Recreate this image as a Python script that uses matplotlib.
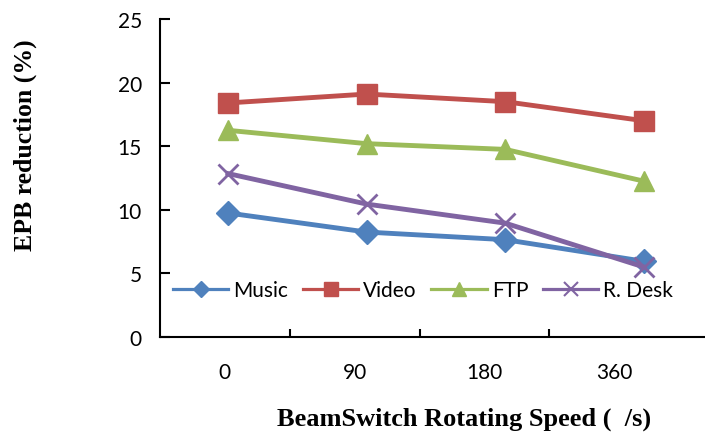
import numpy as np
import matplotlib.pyplot as plt
from matplotlib.lines import Line2D

# data
speeds = ['0', '90', '180', '360']
music = [9.75, 8.25, 7.65, 5.95]
video = [18.4, 19.1, 18.5, 17.0]
ftp = [16.25, 15.2, 14.75, 12.25]
rdesk = [12.85, 10.45, 8.95, 5.5]

colors = ['#4F81BD', '#C0504D', '#9BBB59', '#8064A2']
markers = ['D', 's', '^', 'x']
names = ['Music', 'Video', 'FTP', 'R. Desk']

plt.rcParams['font.family'] = ['Lato', 'DejaVu Sans']

fig = plt.figure(figsize=(7.05, 4.39), dpi=100)
W, H = 705, 439
box = [160 / W, 1 - 338 / H, (705 - 160) / W, (338 - 20) / H]

# axis frame with category ticks
ax = fig.add_axes(box)
ax.set_xlim(-0.5, 3.7)
ax.set_ylim(0, 25)
ax.set_yticks(np.arange(0, 26, 5))
ax.set_xticks(range(4))
ax.set_xticklabels(speeds)
ax.tick_params(axis='x', length=0, pad=18, labelsize=15)
ax.tick_params(axis='y', direction='in', length=7, width=1.5, pad=13, labelsize=15)
ax.set_xticks([0.5, 1.5, 2.5], minor=True)
ax.tick_params(axis='x', which='minor', direction='in', length=6, width=1.5)
for s in ['top', 'right']:
    ax.spines[s].set_visible(False)
for s in ['left', 'bottom']:
    ax.spines[s].set_linewidth(1.5)

serif = dict(family='Liberation Serif', fontweight='bold')
fig.text(25 / W, 1 - 145 / H, 'EPB reduction (%)', rotation=90,
         ha='center', va='center', fontsize=18.5, **serif)
fig.text(464 / W, 1 - 419 / H, 'BeamSwitch Rotating Speed (  /s)',
         ha='center', va='center', fontsize=19, **serif)

# series drawn on an overlay with the plot-area offset of the original
ax2 = fig.add_axes(box, frameon=False)
ax2.set_xlim(-0.49, 3.44)
ax2.set_ylim(0, 25)
ax2.set_xticks([])
ax2.set_yticks([])
x = np.arange(len(speeds))
handles = []
for vals, c, m, n in zip([music, video, ftp, rdesk], colors, markers, names):
    ms = {'D': 12, 's': 14, '^': 14, 'x': 14}[m]
    ax2.plot(x, vals, color=c, lw=3.5, marker=m, ms=ms, mew=2 if m == 'x' else 1,
             mec=c, mfc=c)
    lms = {'D': 8, 's': 10, '^': 10, 'x': 10}[m]
    handles.append(Line2D([], [], color=c, lw=2.3, marker=m, ms=lms,
                          mew=1.5 if m == 'x' else 1, mec=c, mfc=c, label=n))

ax2.legend(handles=handles, loc='center left', ncol=4, frameon=False,
           fontsize=15, handlelength=2.65, handletextpad=0.25, columnspacing=0.7,
           bbox_to_anchor=(0.024, 0.148), borderaxespad=0, borderpad=0)

fig.savefig('out.png', dpi=100)
